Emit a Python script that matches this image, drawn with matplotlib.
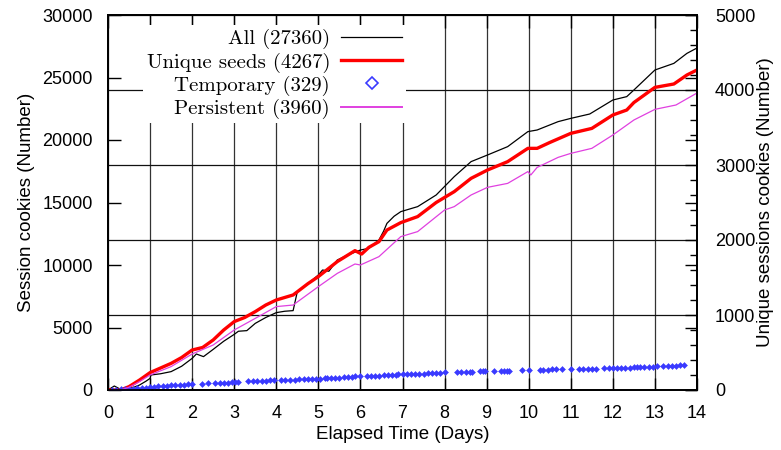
import matplotlib
matplotlib.use("Agg")
import matplotlib.pyplot as plt
from matplotlib.lines import Line2D
from matplotlib.ticker import MultipleLocator

# all session cookies (left axis)
all_days = [0, 0.15, 0.3, 0.45, 0.6, 0.75, 0.9, 1.0, 1.02, 1.25, 1.5, 1.75, 2.0, 2.1, 2.27,
            2.5, 2.75, 3.0, 3.1, 3.3, 3.5, 3.75, 4.0, 4.2, 4.4, 4.5, 4.75, 5.0, 5.1, 5.25,
            5.45, 5.7, 6.0, 6.2, 6.44, 6.55, 6.63, 6.8, 6.96, 7.36, 7.8, 8.23, 8.63, 9.02,
            9.5, 9.98, 10.2, 10.7, 11.0, 11.45, 12.0, 12.33, 12.5, 12.75, 13.0, 13.45,
            13.76, 14.0]
all_vals = [0, 320, 50, 80, 200, 400, 700, 930, 1200, 1300, 1470, 1900, 2530, 2880, 2670,
            3250, 3900, 4450, 4700, 4750, 5330, 5800, 6190, 6300, 6350, 7870, 8500, 9200,
            9600, 9500, 10400, 10800, 11200, 11330, 12000, 12700, 13330, 13900, 14270,
            14670, 15600, 17070, 18270, 18800, 19470, 20670, 20800, 21470, 21730, 22080,
            23200, 23470, 24000, 24800, 25600, 26130, 26930, 27360]

# unique seeds (right axis)
seed_days = [0, 0.3, 0.5, 0.75, 1.0, 1.5, 1.75, 2.0, 2.25, 2.5, 2.75, 3.0, 3.25, 3.5, 3.75,
             4.0, 4.4, 4.75, 5.0, 5.45, 5.87, 6.03, 6.2, 6.44, 6.63, 6.96, 7.36, 7.8, 8.23,
             8.63, 9.02, 9.5, 9.98, 10.2, 10.5, 11.0, 11.5, 12.0, 12.33, 12.5, 13.0, 13.45,
             13.76, 14.0]
seed_vals = [0, 0, 45, 133, 232, 355, 433, 533, 567, 667, 800, 912, 967, 1045, 1133,
             1200, 1267, 1417, 1512, 1712, 1858, 1813, 1902, 1978, 2133, 2232, 2312, 2500,
             2645, 2822, 2933, 3045, 3222, 3222, 3300, 3422, 3488, 3667, 3733, 3833, 4035,
             4080, 4200, 4267]

# persistent cookies (right axis)
pers_days = [0, 0.3, 0.5, 0.75, 1.0, 1.5, 2.0, 2.5, 3.0, 3.5, 4.0, 4.4, 5.0, 5.45, 5.87,
             6.0, 6.44, 6.96, 7.36, 8.0, 8.23, 8.63, 9.02, 9.5, 9.98, 10.05, 10.2, 10.7,
             11.0, 11.5, 12.0, 12.5, 13.0, 13.5, 14.0]
pers_vals = [0, 0, 37, 112, 200, 312, 480, 600, 800, 955, 1112, 1133, 1378, 1555, 1680,
             1667, 1778, 2045, 2112, 2400, 2445, 2600, 2702, 2755, 2912, 2867, 2968, 3102,
             3155, 3222, 3400, 3600, 3742, 3800, 3960]

# temporary cookies (right axis), one dot per arrival
temp_days = [0.1, 0.2, 0.3, 0.4, 0.5, 0.6, 0.7, 0.8, 0.9, 1.0, 1.1, 1.2, 1.3, 1.4, 1.5,
             1.6, 1.7, 1.8, 1.9, 2.0, 2.23, 2.38, 2.54, 2.66, 2.75, 2.85, 2.95, 3.02, 3.09,
             3.33, 3.45, 3.55, 3.65, 3.75, 3.85, 3.95, 4.12, 4.2, 4.33, 4.45, 4.55, 4.65,
             4.75, 4.85, 4.95, 5.05, 5.15, 5.2, 5.3, 5.4, 5.5, 5.6, 5.7, 5.8, 5.87, 6.0,
             6.15, 6.25, 6.35, 6.45, 6.55, 6.65, 6.75, 6.85, 6.9, 7.0, 7.1, 7.2, 7.3, 7.4,
             7.5, 7.6, 7.7, 7.8, 7.9, 8.0, 8.3, 8.4, 8.5, 8.6, 8.65, 8.85, 8.92, 8.96, 9.18,
             9.35, 9.42, 9.48, 9.53, 9.84, 10.0, 10.27, 10.35, 10.45, 10.55, 10.65, 10.8,
             11.0, 11.2, 11.3, 11.4, 11.5, 11.6, 11.8, 11.9, 12.0, 12.1, 12.2, 12.3, 12.4,
             12.5, 12.57, 12.65, 12.75, 12.85, 12.95, 13.05, 13.2, 13.3, 13.4, 13.5, 13.6,
             13.7]
temp_vals = [2, 5, 8, 12, 16, 20, 25, 29, 33, 37, 43, 48, 53, 57, 62, 66, 70, 73, 77, 80,
             84, 87, 90, 92, 95, 98, 101, 105, 108, 114, 117, 119, 122, 124, 127, 130, 133,
             134, 137, 139, 141, 143, 146, 148, 150, 153, 155, 156, 160, 163, 166, 170, 174,
             178, 181, 183, 186, 189, 191, 193, 196, 199, 202, 205, 207, 209, 211, 213, 215,
             218, 220, 223, 226, 229, 232, 235, 238, 239, 240, 242, 243, 247, 248, 249, 252,
             255, 256, 257, 258, 263, 266, 270, 272, 273, 275, 276, 278, 279, 281, 282, 283,
             284, 285, 288, 290, 292, 294, 296, 298, 300, 301, 302, 306, 308, 310, 312, 315,
             319, 321, 323, 325, 327, 329]

labels = ["All (27360)", "Unique seeds (4267)", "Temporary (329)", "Persistent (3960)"]

sans = "Liberation Sans"
fig = plt.figure(figsize=(7.81, 4.5), dpi=100)
ax = fig.add_axes([108 / 781, 60 / 450, 589 / 781, 375 / 450])
ax2 = ax.twinx()

ax.plot(all_days, all_vals, color="black", lw=0.9)
ax2.plot(seed_days, seed_vals, color="#ff0000", lw=2.4)
ax2.plot(temp_days, temp_vals, ls="none", marker="D", ms=3, color="#3a3aff", mew=0.4)
ax2.plot(pers_days, pers_vals, color="#e040e0", lw=0.9)

ax.set_xlim(0, 14)
ax.set_ylim(0, 30000)
ax2.set_ylim(0, 5000)
ax.xaxis.set_major_locator(MultipleLocator(1))
ax.yaxis.set_major_locator(MultipleLocator(5000))
ax2.yaxis.set_major_locator(MultipleLocator(1000))
ax2.yaxis.set_minor_locator(MultipleLocator(200))

ax.grid(True, axis="x", color="#333333", lw=0.9)
ax2.grid(True, axis="y", color="#111111", lw=0.9)

ax.tick_params(axis="both", direction="in", length=9, width=1, labelsize=13,
               top=True, right=True, labelright=False)
ax.tick_params(axis="y", pad=11)
ax.tick_params(axis="x", pad=11)
ax2.tick_params(axis="y", which="major", direction="in", length=9, width=1,
                labelsize=13, pad=13)
ax2.tick_params(axis="y", which="minor", direction="in", length=5, width=1)
for t in ax.get_xticklabels() + ax.get_yticklabels() + ax2.get_yticklabels():
    t.set_fontfamily(sans)
for a in (ax, ax2):
    for s in a.spines.values():
        s.set_linewidth(1.3)

ax.set_xlabel("Elapsed Time (Days)", fontsize=13.5, fontfamily=sans, labelpad=3)
ax.set_ylabel("Session cookies (Number)", fontsize=13.5, fontfamily=sans, labelpad=5)
ax2.set_ylabel("Unique sessions cookies (Number)", fontsize=13.5, fontfamily=sans,
               labelpad=1)

handles = [
    Line2D([], [], color="black", lw=0.9),
    Line2D([], [], color="#ff0000", lw=2.4),
    Line2D([], [], ls="none", marker="D", ms=6, mfc="none", mec="#3a3aff", mew=1.2),
    Line2D([], [], color="#e040e0", lw=1.4),
]
leg = ax2.legend(handles, labels, loc="upper right", bbox_to_anchor=(0.523, 1.0),
                 markerfirst=False, frameon=True, facecolor="white", edgecolor="none",
                 framealpha=1, fancybox=False, handlelength=2.9, handletextpad=0.55,
                 labelspacing=0.15, borderpad=0.18, prop={"family": "cmr10", "size": 15})
leg.set_zorder(10)

fig.savefig("out.png", dpi=100)
